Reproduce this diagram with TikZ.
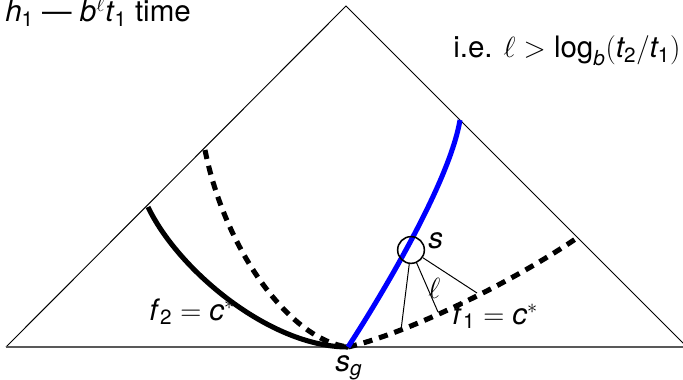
\documentclass[tikz,border=0pt]{standalone}
\usepackage{amsmath}
\usepackage{fontspec}
\setmainfont{TeX Gyre Heros}
\newcommand{\vi}[1]{\textit{#1}}
\newcommand{\sub}[1]{_{\text{#1}}}
\tikzset{
	thinline/.style={line width=0.7pt},
	thickcurve/.style={line width=3.6pt},
	dashcurve/.style={line width=3.6pt, dash pattern=on 6.5pt off 5pt},
	lbl/.style={inner sep=0pt, anchor=base west, font=\fontsize{21}{23}\selectfont}
}
\begin{document}
\begin{tikzpicture}[x=0.025cm,y=-0.025cm]
				\useasboundingbox (0,0) rectangle (683,380);
				\coordinate (A) at (346,6);
				\coordinate (B) at (6,347);
				\coordinate (C) at (687,347);
				\coordinate (sg) at (348,347);
				\draw[thinline] (B)--(A)--(C);
				\draw[gray!70!black, line width=1.1pt] (B)--(C);
				% level curves
				\draw[thickcurve] (148,207) .. controls (178,270) and (270,347) .. (sg);
				\draw[dashcurve] (205,150) .. controls (225,250) and (290,340) .. (sg);
				\draw[dashcurve] (sg) .. controls (400,335) and (500,290) .. (577,238);
				\draw[thickcurve, blue] (sg) .. controls (385,290) and (450,180) .. (460,120);
				% point s and its distances
				\node[draw, circle, line width=1.1pt, minimum size=19pt, inner sep=0pt] (s) at (411,250) {};
				\coordinate (p1) at (401,330);
				\coordinate (p2) at (438,312);
				\coordinate (p3) at (477,293);
				\draw[thinline] (s)--(p1) (s)--(p2) (s)--(p3);
				\node[lbl] at (428,248) {\vi{s}};
				\node[lbl] at (428,298) {$\ell$};
				\node[lbl] at (452,324) {\vi{f}$\sub{1} = \vi{c}^*$};
				\node[lbl] at (149,320) {\vi{f}$\sub{2} = \vi{c}^*$};
				\node[lbl] at (335,371) {\vi{s}$\sub{\vi{g}}$};
				\node[lbl] at (453,58) {i.e. $\ell > \text{log}\sub{\vi{b}}(\vi{t}\sub{2}/\vi{t}\sub{1})$};
				\node[lbl] at (5,22) {\vi{h}$\sub{1}$ --- \vi{b}$^{\ell}$\vi{t}$\sub{1}$ time};
			\end{tikzpicture}
\end{document}
